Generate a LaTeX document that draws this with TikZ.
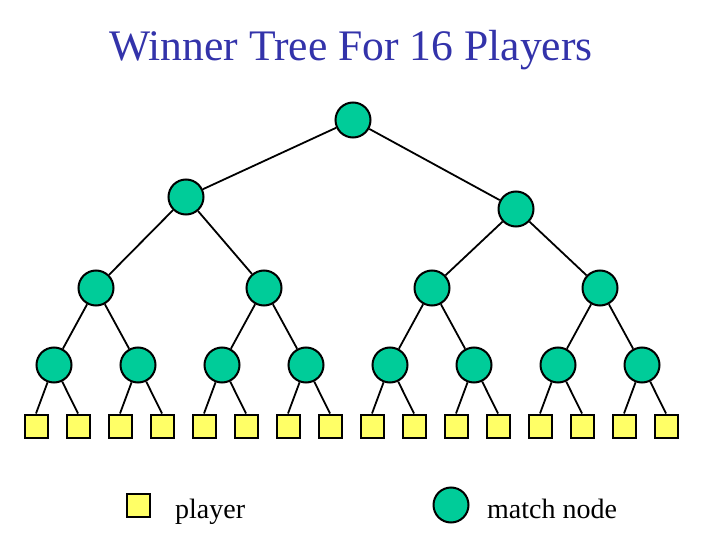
\documentclass[tikz,border=0pt]{standalone}
\usepackage{fontspec}
\setmainfont{Liberation Serif}
\usepackage{tikz}

\definecolor{titleblue}{RGB}{51,51,170}
\definecolor{matchgreen}{RGB}{0,204,153}
\definecolor{playeryellow}{RGB}{255,255,102}

\tikzset{
  match/.style={circle, draw=black, fill=matchgreen, line width=2pt, minimum size=35pt, inner sep=0pt},
  player/.style={rectangle, draw=black, fill=playeryellow, line width=2pt, minimum size=23pt, inner sep=0pt},
  edge/.style={line width=1.8pt},
  label text/.style={inner sep=0pt, font=\fontsize{28}{32}\selectfont}
}

\begin{document}
\begin{tikzpicture}[x=1pt,y=-1pt]
    \useasboundingbox (0,0) rectangle (720,540);

    % Title
    \node[text=titleblue, inner sep=0pt, anchor=base, font=\fontsize{43.6}{50}\selectfont] (title) at (351,61) {Winner Tree For 16 Players};

    % Match nodes (numbered as in a heap)
    \node[match] (m1) at (353,120) {};
    \node[match] (m2) at (186,197) {};
    \node[match] (m3) at (516,209) {};
    \foreach \i/\x in {4/96,5/264,6/432,7/600}
        \node[match] (m\i) at (\x,288) {};
    \foreach \i in {0,...,7} {
        \pgfmathtruncatemacro\k{8+\i}
        \node[match] (m\k) at (54+84*\i,365) {};
    }

    % Players
    \foreach \i in {1,...,16}
        \node[player] (p\i) at (42*\i-6,426) {};

    % Edges between match nodes
    \foreach \k in {2,...,15} {
        \pgfmathtruncatemacro\pa{\k/2}
        \draw[edge] (m\pa) -- (m\k);
    }
    % Edges to players
    \foreach \i in {1,...,16} {
        \pgfmathtruncatemacro\pa{7+ceil(\i/2)}
        \draw[edge] (m\pa) -- (p\i.north);
    }

    % Legend
    \node[player] (keyplayer) at (138,505) {};
    \node[label text, anchor=base west] (keyplayertext) at (175,518) {player};
    \node[match] (keymatch) at (451,505) {};
    \node[label text, anchor=base west] (keymatchtext) at (487,518) {match node};
\end{tikzpicture}
\end{document}
